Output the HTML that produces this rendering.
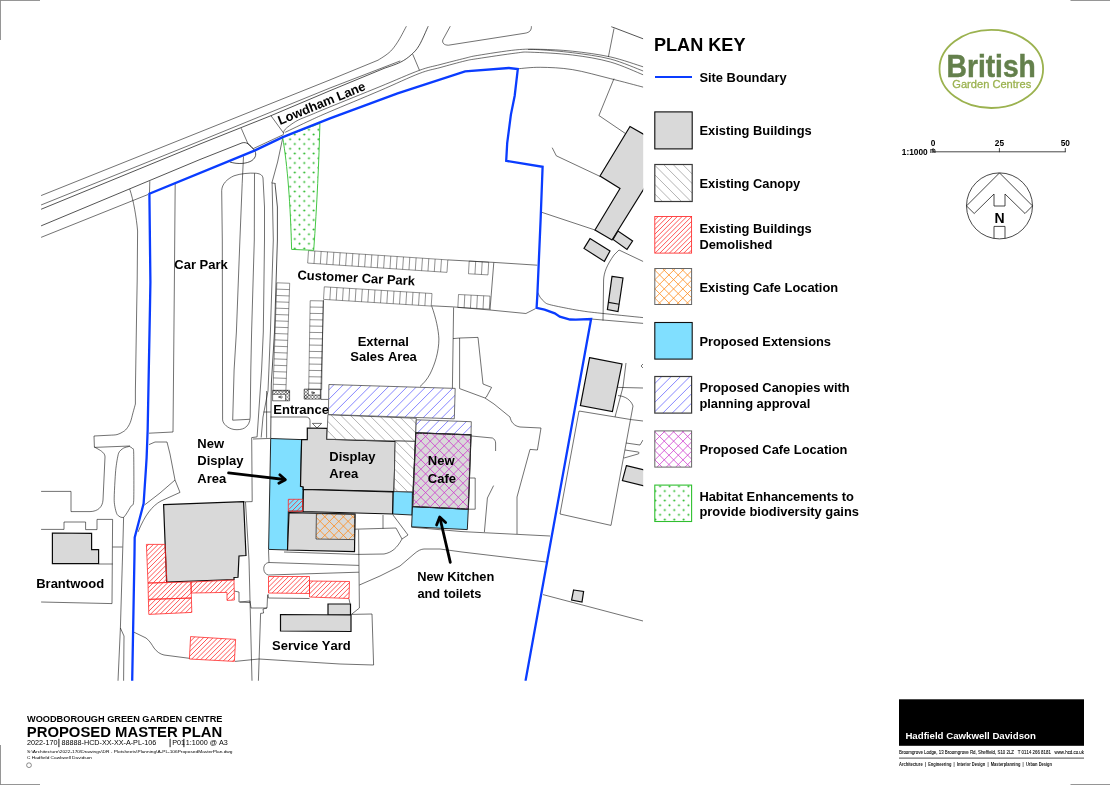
<!DOCTYPE html>
<html lang="en">
<head>
<meta charset="utf-8">
<title>Proposed Master Plan - Woodborough Green Garden Centre</title>
<style>
html,body{margin:0;padding:0;background:#fff;}
body{width:1110px;height:785px;overflow:hidden;}
svg{display:block;font-family:"Liberation Sans", sans-serif;will-change:transform;}
text{font-kerning:none;}
.t{fill:none;stroke:#0a0a0a;stroke-width:0.58;stroke-linejoin:round;stroke-linecap:butt;}
.t2{fill:none;stroke:#0a0a0a;stroke-width:0.7;stroke-linejoin:round;}
.t3{fill:none;stroke:#222;stroke-width:0.5;}
.b{fill:#d9d9d9;stroke:#0a0a0a;stroke-width:1.2;stroke-linejoin:miter;}
.bo{fill:none;stroke:#111;stroke-width:1.1;stroke-linejoin:miter;}
.cy{fill:#80dfff;stroke:#111;stroke-width:0.9;stroke-linejoin:miter;}
.blue{fill:none;stroke:#0a3cff;stroke-width:2.3;stroke-linejoin:miter;stroke-linecap:butt;}
.red{fill:none;stroke:#ff2a2a;stroke-width:0.8;}
.grn{fill:url(#hGrn);stroke:#2fbf2f;stroke-width:0.9;}
.can{fill:none;stroke:#333;stroke-width:0.7;}
.pcan{fill:none;stroke:#333;stroke-width:0.7;}
.org{fill:none;stroke:#333;stroke-width:0.8;}
.pur{fill:none;stroke:#333;stroke-width:0.8;}
.lg.can,.lg.pcan{stroke:#3a3a3a;stroke-width:1.2;}
.lg.org,.lg.pur{stroke:#666;stroke-width:1;}
.lg.red{stroke-width:0.85;}
.lg.grn{stroke-width:1.1;}
.lg.b,.lg.cy{stroke-width:1.1;}
.arrow{fill:none;stroke:#000;stroke-width:2.8;stroke-linecap:round;stroke-linejoin:round;}
</style>
</head>
<body>
<svg width="1110" height="785" viewBox="0 0 1110 785">
<defs>
<clipPath id="mapclip"><rect x="41.1" y="26.3" width="602.1" height="654.5"/></clipPath>
<pattern id="hGrn" patternUnits="userSpaceOnUse" width="9.43" height="9.5" patternTransform="translate(657.74 483.93)"><circle cx="2.357" cy="2.375" r="1.0" fill="#1fb51f"/><circle cx="7.072" cy="7.125" r="1.0" fill="#1fb51f"/></pattern>
<pattern id="hGrn2" patternUnits="userSpaceOnUse" width="9.43" height="9.5" patternTransform="translate(287.74 136.88)"><circle cx="2.357" cy="2.375" r="1.0" fill="#1fb51f"/><circle cx="7.072" cy="7.125" r="1.0" fill="#1fb51f"/></pattern>
</defs>
<rect x="0" y="0" width="1110" height="785" fill="#fff"/>
<g clip-path="url(#mapclip)">
<path class="t" d="M41,195.6 L330,79.9 L378,60.2 L378.00,60.20 C379.33,59.33 383.63,56.78 386.00,55.00 C388.37,53.22 390.05,52.00 392.20,49.50 C394.35,47.00 396.52,43.92 398.90,40.00 C401.28,36.08 405.23,28.33 406.50,26.00" />
<polyline class="t" points="41,205 200,141 330,88 400.3,60.9" />
<path class="t2" d="M41,209.3 L200,144 L270.7,115.8 L330,90.7 L384,68.4 L384.00,68.40 C386.72,67.38 395.78,64.55 400.30,62.30 C404.82,60.05 407.95,57.72 411.10,54.90 C414.25,52.08 416.33,50.22 419.20,45.40 C422.07,40.58 426.78,29.23 428.30,26.00" />
<path class="t2" d="M41,225.9 L200,159.5 L242,142.9 C247,141.5 250,145 253.8,149.4 C257,153.5 256,157.5 252,160.5 C247,163.8 238,164.5 229.8,162" />
<polyline class="t" points="41,237.4 148,194.5" />
<polyline class="t" points="149.8,181.2 149.5,193" />
<polyline class="t" points="241.2,128.2 248.1,144.1 253.8,149.4" />
<polyline class="t" points="270.9,115.6 283.6,133.1" />
<path class="t" d="M283.40,134.50 C283.57,133.80 283.42,131.75 284.40,130.30 C285.38,128.85 287.00,127.50 289.30,125.80 C291.60,124.10 294.75,121.87 298.20,120.10 C301.65,118.33 304.70,117.40 310.00,115.20 C315.30,113.00 318.33,111.67 330.00,106.90 C341.67,102.13 365.13,92.68 380.00,86.60 C394.87,80.52 409.20,74.07 419.20,70.40 C429.20,66.73 432.35,66.63 440.00,64.60 C447.65,62.57 458.80,59.73 465.10,58.20 C471.40,56.67 469.37,56.78 477.80,55.40 C486.23,54.02 505.28,50.92 515.70,49.90 C526.12,48.88 530.85,49.08 540.30,49.30 C549.75,49.52 560.73,49.93 572.40,51.20 C584.07,52.47 598.47,54.28 610.30,56.90 C622.13,59.52 637.88,65.23 643.40,66.90" />
<path class="t" d="M285.20,132.30 C289.33,130.33 302.53,123.95 310.00,120.50 C317.47,117.05 318.33,116.58 330.00,111.60 C341.67,106.62 365.13,96.95 380.00,90.60 C394.87,84.25 409.20,77.33 419.20,73.50 C429.20,69.67 432.35,69.70 440.00,67.60 C447.65,65.50 458.80,62.40 465.10,60.90 C471.40,59.40 469.37,59.90 477.80,58.60 C486.23,57.30 506.87,54.17 515.70,53.10 C524.53,52.03 521.35,51.88 530.80,52.20 C540.25,52.52 559.15,53.37 572.40,55.00 C585.65,56.63 598.47,58.68 610.30,62.00 C622.13,65.32 637.88,72.75 643.40,74.90" />
<path class="t" d="M528.00,49.50 C530.05,49.55 532.90,49.27 540.30,49.80 C547.70,50.33 560.73,51.17 572.40,52.70 C584.07,54.23 598.47,55.93 610.30,59.00 C622.13,62.07 637.88,69.08 643.40,71.10" />
<polyline class="t" points="412.7,54.2 419.5,70.4" />
<path class="t" d="M450.4,26 L442.8,39.9 C442,43 444,45.2 448.5,45.2 L525.1,33.2 C529.5,32.4 531.6,30.5 531.4,26" />
<path class="t" d="M517.60,68.80 C521.38,68.55 531.17,67.17 540.30,67.30 C549.43,67.43 560.73,67.72 572.40,69.60 C584.07,71.48 598.47,75.67 610.30,78.60 C622.13,81.53 637.88,85.77 643.40,87.20" />
<polyline class="t2" points="611.2,26.6 643.4,38.9" />
<polyline class="t" points="614,28.5 608.4,56.9" />
<polyline class="t" points="614,78.6 598.9,115.5 625.4,133.5" />
<path class="t" d="M552.2,147.7 L556.3,155.8 L600,176.4" />
<polyline class="t" points="542,212.4 595,230" />
<path class="t" d="M643.4,261.6 L619,250 L614,255 C607,265 604,272 603.6,280 L603,320.6" />
<path class="t" d="M537.70,292.30 C538.12,293.13 539.05,295.67 540.20,297.30 C541.35,298.93 543.02,300.88 544.60,302.10 C546.18,303.32 545.70,303.52 549.70,304.60 C553.70,305.68 563.03,307.52 568.60,308.60 C574.17,309.68 578.27,310.38 583.10,311.10 C587.93,311.82 587.62,311.82 597.60,312.90 C607.58,313.98 635.43,316.82 643.00,317.60" />
<polyline class="t" points="591,319 643.4,323.4" />
<path class="t" d="M129.7,189.1 C133.5,200 136.5,218 137.6,231 L137.2,280 L136.7,308 L135.4,390 L135.4,404 L135.40,404.00 C135.00,405.45 133.85,409.63 133.00,412.70 C132.15,415.77 131.38,419.70 130.30,422.40 C129.22,425.10 127.77,427.30 126.50,428.90 C125.23,430.50 124.28,431.05 122.70,432.00 C121.12,432.95 119.12,434.07 117.00,434.60 C114.88,435.13 111.17,435.10 110.00,435.20 L94,436 L94.4,447 L99,449.6 C103,452 105,454 105,457 L103,500 C102.5,507 98,511.4 90,511.6 L71,511.6 L71,491.4 L41,491.4" />
<polyline class="t" points="94.2,447.4 130,446" />
<path class="t" d="M129.40,446.40 C129.77,446.66 132.10,447.83 132.60,448.60 C133.10,449.37 133.57,446.92 133.70,453.00 C133.83,459.08 134.04,494.46 133.70,500.70 C133.36,506.94 131.98,504.56 130.80,506.50 C129.62,508.44 125.20,516.38 123.60,517.30 C122.00,518.22 118.20,516.34 117.10,514.40 C116.00,512.46 114.36,505.83 114.20,500.70 C114.04,495.57 115.19,475.94 115.70,470.40 C116.21,464.86 117.68,455.80 118.60,453.20 C119.52,450.60 122.34,448.89 123.60,448.10 C124.86,447.31 128.72,446.60 129.40,446.40" />
<path class="t" d="M123.6,517.3 L123,540 L120.4,628 L124,636 L123.6,681" />
<polyline class="t" points="120.4,628 118,681" />
<polyline class="t" points="41,529.4 64,529.4 64,522 85.6,522 85.6,529.6 97,529.6 97,519.4 112.6,519.4 112,603.6 41,602" />
<polyline class="t" points="112.6,547 122.4,547" />
<polyline class="t" points="98.6,564 112.6,564" />
<polyline class="t" points="175.2,182.8 174.4,280 173,432 149,433.2" />
<path class="t" d="M149,444.6 L155,442 L167,442 L170,454 L175,480 L180,492.4 L161,501 C152,506 145,515 138,532" />
<polyline class="t" points="175,480 160,493 144.5,505" />
<path class="t" d="M222.6,419.9 L222.3,240 L221.7,190.5 C222,184 227,179 234,175.8 C240,173.6 250,172.8 255.1,173.2 C259,173.4 262.5,174.5 263,178 L264.5,207 L264.5,240 L263.3,332 L261.6,370 L257.1,436.9 L251.7,437.6 L252.2,501.6 L240,502" />
<path class="t" d="M222.6,419.9 C223,424 228,428.5 234,429.5 C238,430 242,429.5 244.5,428 C248,426 250,422.5 250.2,417 L250.8,370 L251.6,332 L254.3,240 L254.5,173.3" />
<polyline class="t" points="243.5,156.3 242.2,183.4 239.9,240 236.4,332 234.1,370 232.7,420.2 249.6,419.3" />
<polyline class="t" points="282.7,138.2 277.6,162 271.9,182.9" />
<polyline class="t" points="253.5,148.5 283.2,134.7" />
<polyline class="t" points="271.7,182.9 275.5,183.5" />
<polyline class="t" points="272.1,182.9 273.3,240 270.4,332 268.9,370 268,390.8 263,417 261.2,437.5" />
<path class="t2" d="M275,183.5 L277.4,207 L277.4,240 L274.5,332 L271.3,384 L270.7,438.3" />
<polyline class="t" points="263.5,412 270.7,412" />
<polyline class="t" points="266.6,391 266.6,437.8" />
<polyline class="t" points="253,439 270.4,438.4" />
<path class="t" d="M270.7,417 L306,417 C308.5,417 310,418.5 310,420.6 L310,427.5" />
<polyline class="t" points="320.9,399.4 328.1,399.4" />
<path class="t3" d="M308.50,250.60 L447.80,259.90 M307.67,263.07 L446.97,272.37 M308.50,250.60 L307.67,263.07 M314.83,251.02 L314.00,263.49 M321.16,251.45 L320.33,263.92 M327.50,251.87 L326.66,264.34 M333.83,252.29 L332.99,264.76 M340.16,252.71 L339.33,265.19 M346.49,253.14 L345.66,265.61 M352.82,253.56 L351.99,266.03 M359.15,253.98 L358.32,266.45 M365.49,254.40 L364.65,266.88 M371.82,254.83 L370.99,267.30 M378.15,255.25 L377.32,267.72 M384.48,255.67 L383.65,268.14 M390.81,256.10 L389.98,268.57 M397.15,256.52 L396.31,268.99 M403.48,256.94 L402.64,269.41 M409.81,257.36 L408.98,269.84 M416.14,257.79 L415.31,270.26 M422.47,258.21 L421.64,270.68 M428.80,258.63 L427.97,271.10 M435.14,259.05 L434.30,271.53 M441.47,259.48 L440.64,271.95 M447.80,259.90 L446.97,272.37" />
<path class="t3" d="M324.30,286.80 L432.00,293.50 M323.52,299.38 L431.22,306.08 M324.30,286.80 L323.52,299.38 M330.64,287.19 L329.85,299.77 M336.97,287.59 L336.19,300.16 M343.31,287.98 L342.52,300.56 M349.64,288.38 L348.86,300.95 M355.98,288.77 L355.19,301.35 M362.31,289.16 L361.53,301.74 M368.65,289.56 L367.86,302.13 M374.98,289.95 L374.20,302.53 M381.32,290.35 L380.54,302.92 M387.65,290.74 L386.87,303.32 M393.99,291.14 L393.21,303.71 M400.32,291.53 L399.54,304.11 M406.66,291.92 L405.88,304.50 M412.99,292.32 L412.21,304.89 M419.33,292.71 L418.55,305.29 M425.66,293.11 L424.88,305.68 M432.00,293.50 L431.22,306.08" />
<path class="t3" d="M469.20,261.10 L488.70,262.20 M468.48,273.78 L487.98,274.88 M469.20,261.10 L468.48,273.78 M475.70,261.47 L474.98,274.15 M482.20,261.83 L481.48,274.51 M488.70,262.20 L487.98,274.88" />
<path class="t3" d="M458.50,294.50 L490.00,296.10 M457.84,307.48 L489.34,309.08 M458.50,294.50 L457.84,307.48 M464.80,294.82 L464.14,307.80 M471.10,295.14 L470.44,308.12 M477.40,295.46 L476.74,308.44 M483.70,295.78 L483.04,308.76 M490.00,296.10 L489.34,309.08" />
<path class="t3" d="M276.80,282.80 L273.00,390.60 M289.69,283.25 L285.89,391.05 M276.80,282.80 L289.69,283.25 M276.58,289.14 L289.47,289.60 M276.35,295.48 L289.24,295.94 M276.13,301.82 L289.02,302.28 M275.91,308.16 L288.80,308.62 M275.68,314.51 L288.57,314.96 M275.46,320.85 L288.35,321.30 M275.24,327.19 L288.13,327.64 M275.01,333.53 L287.90,333.98 M274.79,339.87 L287.68,340.33 M274.56,346.21 L287.46,346.67 M274.34,352.55 L287.23,353.01 M274.12,358.89 L287.01,359.35 M273.89,365.24 L286.79,365.69 M273.67,371.58 L286.56,372.03 M273.45,377.92 L286.34,378.37 M273.22,384.26 L286.12,384.71 M273.00,390.60 L285.89,391.05" />
<path class="t3" d="M310.20,300.70 L308.70,389.40 M323.20,300.92 L321.70,389.62 M310.20,300.70 L323.20,300.92 M310.09,307.04 L323.09,307.26 M309.99,313.37 L322.98,313.59 M309.88,319.71 L322.88,319.93 M309.77,326.04 L322.77,326.26 M309.66,332.38 L322.66,332.60 M309.56,338.71 L322.56,338.93 M309.45,345.05 L322.45,345.27 M309.34,351.39 L322.34,351.61 M309.24,357.72 L322.23,357.94 M309.13,364.06 L322.13,364.28 M309.02,370.39 L322.02,370.61 M308.91,376.73 L321.91,376.95 M308.81,383.06 L321.81,383.28 M308.70,389.40 L321.70,389.62" />
<clipPath id="c1"><polygon points="272.6,390.3 289.6,390.3 289.6,394.3 272.6,394.3"/></clipPath>
<path clip-path="url(#c1)" d="M269.90,394.80L274.90,389.80M273.20,394.80L278.20,389.80M276.50,394.80L281.50,389.80M279.80,394.80L284.80,389.80M283.10,394.80L288.10,389.80M286.40,394.80L291.40,389.80M270.20,389.80L275.20,394.80M273.50,389.80L278.50,394.80M276.80,389.80L281.80,394.80M280.10,389.80L285.10,394.80M283.40,389.80L288.40,394.80M286.70,389.80L291.70,394.80" fill="none" stroke="#1a1a1a" stroke-width="0.45"/>
<polyline class="t" points="272.6,394.3 285.6,394.3" />
<clipPath id="c2"><polygon points="285.6,390.3 289.6,390.3 289.6,400.8 285.6,400.8"/></clipPath>
<path clip-path="url(#c2)" d="M276.60,401.30L288.10,389.80M279.90,401.30L291.40,389.80M283.20,401.30L294.70,389.80M286.50,401.30L298.00,389.80M276.80,389.80L288.30,401.30M280.10,389.80L291.60,401.30M283.40,389.80L294.90,401.30M286.70,389.80L298.20,401.30" fill="none" stroke="#1a1a1a" stroke-width="0.45"/>
<polyline class="t" points="285.6,394.3 285.6,400.8" />
<rect class="t" x="272.6" y="390.3" width="17" height="10.5"/>
<clipPath id="c3"><polygon points="304.2,395.1 320.4,395.1 320.4,399.1 304.2,399.1"/></clipPath>
<path clip-path="url(#c3)" d="M301.50,399.60L306.50,394.60M304.80,399.60L309.80,394.60M308.10,399.60L313.10,394.60M311.40,399.60L316.40,394.60M314.70,399.60L319.70,394.60M318.00,399.60L323.00,394.60M301.80,394.60L306.80,399.60M305.10,394.60L310.10,399.60M308.40,394.60L313.40,399.60M311.70,394.60L316.70,399.60M315.00,394.60L320.00,399.60M318.30,394.60L323.30,399.60" fill="none" stroke="#1a1a1a" stroke-width="0.45"/>
<polyline class="t" points="308.2,395.1 320.4,395.1" />
<clipPath id="c4"><polygon points="304.2,389.1 308.2,389.1 308.2,399.1 304.2,399.1"/></clipPath>
<path clip-path="url(#c4)" d="M294.90,399.60L305.90,388.60M298.20,399.60L309.20,388.60M301.50,399.60L312.50,388.60M304.80,399.60L315.80,388.60M295.80,388.60L306.80,399.60M299.10,388.60L310.10,399.60M302.40,388.60L313.40,399.60M305.70,388.60L316.70,399.60" fill="none" stroke="#1a1a1a" stroke-width="0.45"/>
<polyline class="t" points="308.2,389.1 308.2,395.1" />
<rect class="t" x="304.2" y="389.1" width="16.2" height="10"/>
<path class="t" d="M281.5,395.8 L278.4,397 L281.8,398.3 M279.5,397 h3.4" />
<path class="t" d="M311.6,391.6 L314.9,392.8 L312,394 M311,392.8 h3.2" />
<polyline class="t" points="447.8,259.9 493.8,262.4 537.3,265.2" />
<polyline class="t" points="431.6,305.8 453.4,306.9 490,310 525.9,313.5 535.4,308.7" />
<polyline class="t" points="493.8,262.4 490,310" />
<path class="t" d="M323.5,300 L321,387 L320.9,399.4" />
<path class="t" d="M431.6,305.8 C436,318 438.5,330 438.9,339 C438.8,352 435,364 430,374 C427,379.5 424,383 420,386.5" />
<polyline class="t" points="453.6,307.4 452.4,388.4" />
<polyline class="t" points="453,338.6 460,338 478,337.4 483,384 491.6,387.4 486.4,397 485,398" />
<path class="t" d="M459.6,338 L459.6,388.6 L485,398 L494,404 L510,417 C511,422 514,426 520,427 L541,428 L537.4,450 L530,449.4 L517,497 L517,534" />
<path class="t" d="M471.4,436 L492.4,438 C494.5,439 495.6,441 495.6,443 L495.6,451" />
<polyline class="t" points="470,478 475.2,478 475.2,509.2 468.5,509.2" />
<path class="t" d="M493.6,485.6 L487.4,498 L484.4,532" />
<polyline class="t" points="411.4,527.2 462,531.6 550,536" />
<path class="t" d="M359.4,585 L380,576 L400,566 L414,554 C418,550.5 421,549.2 424,549 L440,549 L462,552 L546,562" />
<polyline class="t" points="358.6,529.6 359.4,608 351.4,614.4" />
<polyline class="t" points="355,529.2 396,528 402,539" />
<polyline class="t" points="383,515 383,528.6" />
<polyline class="t" points="393,515 408,535 402,539" />
<path class="t" d="M358,554.4 L384,554 C392,552.5 397,548 402,539" />
<polyline class="t" points="284,552 358,554.4" />
<polyline class="t" points="268.5,550 269,562.5" />
<path class="t" d="M358.8,565.4 L269,562.5 C265,563 263.5,566 263.8,569.5 C264,572.5 266,574.5 268.5,575 L358.9,572.2" />
<polyline class="t" points="268,594 268.4,598 309.5,598.5" />
<polyline class="t" points="267.6,595 267,608 263,609 263.6,613 260.6,613.4 258.4,681" />
<polyline class="t" points="245.5,502 249,560 252,681" />
<polyline class="t" points="240,602 250,601 251,608 267,608" />
<polyline class="t" points="349,599 350,603.5" />
<polyline class="t" points="351.4,614.4 372,614 373.6,665 340,664 259,659 235,661.4" />
<polyline class="t" points="234,591 239,592 239,602 250,602.6" />
<path class="t" d="M133.6,632 L146,638 C150,641 152,645 154,648 C157,652 160,654 164,655 L190,658.4" />
<polyline class="t" points="579,411 560,514 611,525.4 630.5,419.5 579,411" />
<polyline class="t" points="626,363 623,387 615,417" />
<polyline class="t" points="618,387.4 643,388" />
<path class="t" d="M618,395.6 C625,396 631,400 633,406 L630.5,419.5 L643,421" />
<polyline class="t" points="626,443 640,445 643,440" />
<path class="t" d="M624,458 L638,454 C639.5,453.5 639.5,452.3 638,452 L625,450" />
<path class="t" d="M643,364 L641,366 L643,368" />
<polyline class="t" points="543,594.6 643,621" />
<path class="grn" d="M282.6,137.2 L319.9,123.4 C319,160 317,205 313.7,250.3 L291.6,249.4 C290.5,205 287.5,165 282.6,137.2 Z" style="fill:url(#hGrn2)"/>
<polygon class="b" points="163.6,504.6 243.6,501.6 246,555.5 239,556 238,577.3 234,577.5 234,579.5 166.6,582" />
<polygon class="b" points="52.4,533 91.6,533.4 91.6,549.6 98.6,549.6 98.6,563.6 52.4,563.6" />
<polygon class="b" points="630,126.5 650,138 650,179 612,240 595,230 620,188.5 600,176" />
<polygon class="b" points="613,239.4 618,231 632.6,241 627,249.4" />
<polygon class="b" points="590,238.6 610,251 604.4,261.4 584,248.4" />
<polygon class="b" points="612,276.4 623,278 618,311.6 607.4,309.6" />
<polyline class="bo" points="608.6,302.4 619.2,304.2" />
<polygon class="b" points="589.6,357.6 622,364 612.4,411.6 580.4,405.6" />
<polygon class="b" points="626.4,465.6 650,471.3 650,487.3 622.4,480.6" />
<polygon class="b" points="573.6,590 583.6,591.4 582,602 571.6,600" />
<polygon class="b" points="328,604 350.5,604 350.5,615 328,615" />
<polygon class="b" points="280.5,614.5 351,615 351,631.5 280.5,631" />
<polygon class="cy" points="270.7,438.5 301.6,439.6 300.5,486.3 303.2,486.9 302.6,511.2 288.3,511.2 287.5,550 268.6,549.4" />
<polygon class="cy" points="393,491.5 412.4,492 412,515 392.6,514" />
<polygon class="cy" points="412.5,506.4 468.3,509.2 467.3,529.6 411.6,526.8" />
<polygon class="b" points="307.3,428 327.2,428.4 326.9,439.2 395.4,441.4 394,491.6 303.2,489.3 303.2,486.9 300.5,486.3 301.6,439.6 307.3,439.7" />
<polygon class="b" points="303.4,489.5 393,492 392.6,514 303,511.5" />
<polygon class="b" points="289,512.6 355,514 354.5,551.6 287.5,550" />
<clipPath id="c5"><polygon points="327.9,414.7 416.3,418.3 415.4,441.4 326.9,439.2"/></clipPath>
<polygon points="327.9,414.7 416.3,418.3 415.4,441.4 326.9,439.2" fill="#fff"/>
<path clip-path="url(#c5)" d="M301.44,414.20L329.14,441.90M311.00,414.20L338.70,441.90M320.56,414.20L348.26,441.90M330.12,414.20L357.82,441.90M339.68,414.20L367.38,441.90M349.24,414.20L376.94,441.90M358.80,414.20L386.50,441.90M368.36,414.20L396.06,441.90M377.92,414.20L405.62,441.90M387.48,414.20L415.18,441.90M397.04,414.20L424.74,441.90M406.60,414.20L434.30,441.90" fill="none" stroke="#808080" stroke-width="0.6"/>
<polygon class="can" points="327.9,414.7 416.3,418.3 415.4,441.4 326.9,439.2"/>
<clipPath id="c6"><polygon points="395.2,441 415.4,441.4 412.8,491.8 394,491.4"/></clipPath>
<polygon points="395.2,441 415.4,441.4 412.8,491.8 394,491.4" fill="#fff"/>
<path clip-path="url(#c6)" d="M346.86,440.50L398.66,492.30M356.42,440.50L408.22,492.30M365.98,440.50L417.78,492.30M375.54,440.50L427.34,492.30M385.10,440.50L436.90,492.30M394.66,440.50L446.46,492.30M404.22,440.50L456.02,492.30M413.78,440.50L465.58,492.30" fill="none" stroke="#808080" stroke-width="0.6"/>
<polygon class="can" points="395.2,441 415.4,441.4 412.8,491.8 394,491.4"/>
<clipPath id="c7"><polygon points="328.9,384.5 455.2,388.4 454.3,418.8 328.4,414.5"/></clipPath>
<polygon points="328.9,384.5 455.2,388.4 454.3,418.8 328.4,414.5" fill="#fff"/>
<path clip-path="url(#c7)" d="M299.40,419.30L334.70,384.00M308.80,419.30L344.10,384.00M318.20,419.30L353.50,384.00M327.60,419.30L362.90,384.00M337.00,419.30L372.30,384.00M346.40,419.30L381.70,384.00M355.80,419.30L391.10,384.00M365.20,419.30L400.50,384.00M374.60,419.30L409.90,384.00M384.00,419.30L419.30,384.00M393.40,419.30L428.70,384.00M402.80,419.30L438.10,384.00M412.20,419.30L447.50,384.00M421.60,419.30L456.90,384.00M431.00,419.30L466.30,384.00M440.40,419.30L475.70,384.00M449.80,419.30L485.10,384.00" fill="none" stroke="#4646ff" stroke-width="0.65"/>
<polygon class="pcan" points="328.9,384.5 455.2,388.4 454.3,418.8 328.4,414.5"/>
<clipPath id="c8"><polygon points="416.3,419.8 471.3,421.7 471,434.9 415.8,432.8"/></clipPath>
<polygon points="416.3,419.8 471.3,421.7 471,434.9 415.8,432.8" fill="#fff"/>
<path clip-path="url(#c8)" d="M405.50,435.40L421.60,419.30M414.90,435.40L431.00,419.30M424.30,435.40L440.40,419.30M433.70,435.40L449.80,419.30M443.10,435.40L459.20,419.30M452.50,435.40L468.60,419.30M461.90,435.40L478.00,419.30" fill="none" stroke="#4646ff" stroke-width="0.65"/>
<polygon class="pcan" points="416.3,419.8 471.3,421.7 471,434.9 415.8,432.8"/>
<polygon class="b" points="415.8,432.8 471,434.9 468.3,509.2 412.6,506.6" />
<clipPath id="c9"><polygon points="415.8,432.8 471,434.9 468.3,509.2 412.6,506.6"/></clipPath>
<path clip-path="url(#c9)" d="M342.97,509.70L420.37,432.30M352.33,509.70L429.73,432.30M361.69,509.70L439.09,432.30M371.05,509.70L448.45,432.30M380.41,509.70L457.81,432.30M389.77,509.70L467.17,432.30M399.13,509.70L476.53,432.30M408.49,509.70L485.89,432.30M417.85,509.70L495.25,432.30M427.21,509.70L504.61,432.30M436.57,509.70L513.97,432.30M445.93,509.70L523.33,432.30M455.29,509.70L532.69,432.30M464.65,509.70L542.05,432.30M337.17,432.30L414.57,509.70M346.53,432.30L423.93,509.70M355.89,432.30L433.29,509.70M365.25,432.30L442.65,509.70M374.61,432.30L452.01,509.70M383.97,432.30L461.37,509.70M393.33,432.30L470.73,509.70M402.69,432.30L480.09,509.70M412.05,432.30L489.45,509.70M421.41,432.30L498.81,509.70M430.77,432.30L508.17,509.70M440.13,432.30L517.53,509.70M449.49,432.30L526.89,509.70M458.85,432.30L536.25,509.70M468.21,432.30L545.61,509.70" fill="none" stroke="#cc33cc" stroke-width="0.75"/>
<polygon class="pur" points="415.8,432.8 471,434.9 468.3,509.2 412.6,506.6"/>
<clipPath id="c10"><polygon points="316.4,513.6 355,514.4 354.5,539.6 316,539"/></clipPath>
<path clip-path="url(#c10)" d="M292.15,540.10L319.15,513.10M301.45,540.10L328.45,513.10M310.75,540.10L337.75,513.10M320.05,540.10L347.05,513.10M329.35,540.10L356.35,513.10M338.65,540.10L365.65,513.10M347.95,540.10L374.95,513.10M293.25,513.10L320.25,540.10M302.55,513.10L329.55,540.10M311.85,513.10L338.85,540.10M321.15,513.10L348.15,540.10M330.45,513.10L357.45,540.10M339.75,513.10L366.75,540.10M349.05,513.10L376.05,540.10" fill="none" stroke="#ff8c1a" stroke-width="0.8"/>
<polygon class="org" points="316.4,513.6 355,514.4 354.5,539.6 316,539"/>
<clipPath id="c11"><polygon points="288.3,499.3 302.7,499.3 302.6,511.2 288.3,511.2"/></clipPath>
<path clip-path="url(#c11)" d="M276.96,511.70L289.86,498.80M281.74,511.70L294.64,498.80M286.52,511.70L299.42,498.80M291.30,511.70L304.20,498.80M296.08,511.70L308.98,498.80M300.86,511.70L313.76,498.80" fill="none" stroke="#ff1a1a" stroke-width="0.74"/>
<polygon class="red" points="288.3,499.3 302.7,499.3 302.6,511.2 288.3,511.2"/>
<clipPath id="c12"><polygon points="146.4,544.4 165,544.4 167,582.5 148,583"/></clipPath>
<path clip-path="url(#c12)" d="M109.56,583.50L149.16,543.90M114.34,583.50L153.94,543.90M119.12,583.50L158.72,543.90M123.90,583.50L163.50,543.90M128.68,583.50L168.28,543.90M133.46,583.50L173.06,543.90M138.24,583.50L177.84,543.90M143.02,583.50L182.62,543.90M147.80,583.50L187.40,543.90M152.58,583.50L192.18,543.90M157.36,583.50L196.96,543.90M162.14,583.50L201.74,543.90" fill="none" stroke="#ff1a1a" stroke-width="0.74"/>
<polygon class="red" points="146.4,544.4 165,544.4 167,582.5 148,583"/>
<clipPath id="c13"><polygon points="148,583 191,582 191.4,598 148.4,599.4"/></clipPath>
<path clip-path="url(#c13)" d="M131.40,599.90L149.80,581.50M136.18,599.90L154.58,581.50M140.96,599.90L159.36,581.50M145.74,599.90L164.14,581.50M150.52,599.90L168.92,581.50M155.30,599.90L173.70,581.50M160.08,599.90L178.48,581.50M164.86,599.90L183.26,581.50M169.64,599.90L188.04,581.50M174.42,599.90L192.82,581.50M179.20,599.90L197.60,581.50M183.98,599.90L202.38,581.50M188.76,599.90L207.16,581.50" fill="none" stroke="#ff1a1a" stroke-width="0.74"/>
<polygon class="red" points="148,583 191,582 191.4,598 148.4,599.4"/>
<clipPath id="c14"><polygon points="148.4,599.4 191.4,598 191.8,612.4 148.8,614.4"/></clipPath>
<path clip-path="url(#c14)" d="M135.52,614.90L152.92,597.50M140.30,614.90L157.70,597.50M145.08,614.90L162.48,597.50M149.86,614.90L167.26,597.50M154.64,614.90L172.04,597.50M159.42,614.90L176.82,597.50M164.20,614.90L181.60,597.50M168.98,614.90L186.38,597.50M173.76,614.90L191.16,597.50M178.54,614.90L195.94,597.50M183.32,614.90L200.72,597.50M188.10,614.90L205.50,597.50" fill="none" stroke="#ff1a1a" stroke-width="0.74"/>
<polygon class="red" points="148.4,599.4 191.4,598 191.8,612.4 148.8,614.4"/>
<clipPath id="c15"><polygon points="191,582 234,580 234.4,600 227,600.4 227,592.4 191.2,593"/></clipPath>
<path clip-path="url(#c15)" d="M173.42,600.90L194.82,579.50M178.20,600.90L199.60,579.50M182.98,600.90L204.38,579.50M187.76,600.90L209.16,579.50M192.54,600.90L213.94,579.50M197.32,600.90L218.72,579.50M202.10,600.90L223.50,579.50M206.88,600.90L228.28,579.50M211.66,600.90L233.06,579.50M216.44,600.90L237.84,579.50M221.22,600.90L242.62,579.50M226.00,600.90L247.40,579.50M230.78,600.90L252.18,579.50" fill="none" stroke="#ff1a1a" stroke-width="0.74"/>
<polygon class="red" points="191,582 234,580 234.4,600 227,600.4 227,592.4 191.2,593"/>
<clipPath id="c16"><polygon points="190.6,636.6 235.6,639.4 234.4,661.4 189.4,659"/></clipPath>
<path clip-path="url(#c16)" d="M165.00,661.90L190.80,636.10M169.78,661.90L195.58,636.10M174.56,661.90L200.36,636.10M179.34,661.90L205.14,636.10M184.12,661.90L209.92,636.10M188.90,661.90L214.70,636.10M193.68,661.90L219.48,636.10M198.46,661.90L224.26,636.10M203.24,661.90L229.04,636.10M208.02,661.90L233.82,636.10M212.80,661.90L238.60,636.10M217.58,661.90L243.38,636.10M222.36,661.90L248.16,636.10M227.14,661.90L252.94,636.10M231.92,661.90L257.72,636.10" fill="none" stroke="#ff1a1a" stroke-width="0.74"/>
<polygon class="red" points="190.6,636.6 235.6,639.4 234.4,661.4 189.4,659"/>
<clipPath id="c17"><polygon points="268.5,576.5 309.5,576.5 309.5,593.5 268.5,593"/></clipPath>
<path clip-path="url(#c17)" d="M252.02,594.00L270.02,576.00M256.80,594.00L274.80,576.00M261.58,594.00L279.58,576.00M266.36,594.00L284.36,576.00M271.14,594.00L289.14,576.00M275.92,594.00L293.92,576.00M280.70,594.00L298.70,576.00M285.48,594.00L303.48,576.00M290.26,594.00L308.26,576.00M295.04,594.00L313.04,576.00M299.82,594.00L317.82,576.00M304.60,594.00L322.60,576.00" fill="none" stroke="#ff1a1a" stroke-width="0.74"/>
<polygon class="red" points="268.5,576.5 309.5,576.5 309.5,593.5 268.5,593"/>
<clipPath id="c18"><polygon points="309.5,581 349.5,581.5 349,598.5 309.5,597"/></clipPath>
<path clip-path="url(#c18)" d="M294.82,599.00L313.32,580.50M299.60,599.00L318.10,580.50M304.38,599.00L322.88,580.50M309.16,599.00L327.66,580.50M313.94,599.00L332.44,580.50M318.72,599.00L337.22,580.50M323.50,599.00L342.00,580.50M328.28,599.00L346.78,580.50M333.06,599.00L351.56,580.50M337.84,599.00L356.34,580.50M342.62,599.00L361.12,580.50M347.40,599.00L365.90,580.50" fill="none" stroke="#ff1a1a" stroke-width="0.74"/>
<polygon class="red" points="309.5,581 349.5,581.5 349,598.5 309.5,597"/>
<polygon class="t" points="312.4,423.4 321.6,423.4 317,428" />
<path class="blue" d="M132.2,681 L134.5,554 L134.7,537.5 L143.6,503.6 L145.85,470 L146.6,458 L147.66,430 L150,306 L150.4,282 L149.4,193.8 L254.5,150.6 L282.8,137.1 L330,118.4 L397.6,93.4 L465.1,71.4 L508.9,68 L517.8,69.1 L514.7,95.7 L510.9,114.6 L507.2,143 L506.2,160.9 L542.6,166.8 L540.6,220 L539,257 L537.4,294 L536.6,307.9 L544.6,309.7 L554.8,313.3 L559.8,316.6 L570,319.5 L575.8,319.7 L591.1,319 L525.5,681" />
</g>
<path class="arrow" d="M228.6,472.9 L284.6,479.5"/>
<path class="arrow" d="M279.8,474.8 L285.4,479.7 L278.8,483.2"/>
<path class="arrow" d="M450.3,562.4 L439.9,517.8"/>
<path class="arrow" d="M436.6,525 L439.7,517 L445.6,522.5"/>
<g font-weight="bold" font-size="13">
<text x="279.9" y="124.9" transform="rotate(-22.2 279.9 124.9)" font-size="12.85">Lowdham Lane</text>
<text x="174.3" y="268.7" >Car Park</text>
<text x="297.2" y="279.2" transform="rotate(3 297.2 279.2)">Customer Car Park</text>
<text x="383.3" y="345.7" text-anchor="middle">External</text>
<text x="383.6" y="361" text-anchor="middle">Sales Area</text>
<text x="273.3" y="413.5" >Entrance</text>
<text x="197.3" y="447.9" >New</text>
<text x="197.3" y="465" >Display</text>
<text x="197.3" y="482.6" >Area</text>
<text x="329.3" y="460.5" >Display</text>
<text x="329.3" y="478.4" >Area</text>
<text x="427.8" y="465.2" >New</text>
<text x="427.8" y="482.6" >Cafe</text>
<text x="417.2" y="580.5" font-size="12.85">New Kitchen</text>
<text x="417.4" y="597.7" font-size="12.8">and toilets</text>
<text x="36.2" y="588" >Brantwood</text>
<text x="272" y="649.8" >Service Yard</text>
</g>
<g fill="none" stroke="#8a8a8a" stroke-width="1">
<path d="M0.4,0 V40 M0,0.4 H40"/>
<path d="M1070.5,0.4 H1110"/>
<path d="M0.4,745 V785 M0,784.6 H40"/>
<path d="M1070.5,784.6 H1110"/>
</g>
<text x="654" y="51.4" font-size="18.1" font-weight="bold" >PLAN KEY</text>
<line x1="655" y1="77" x2="692" y2="77" stroke="#0a3cff" stroke-width="2"/>
<text x="699.4" y="82.2" font-size="12.88" font-weight="bold" >Site Boundary</text>
<rect class="b lg" x="654.8" y="111.9" width="37.4" height="37"/>
<text x="699.4" y="135.2" font-size="12.88" font-weight="bold" >Existing Buildings</text>
<clipPath id="c19"><polygon points="654.8,164.5 692.2,164.5 692.2,201.5 654.8,201.5"/></clipPath>
<path clip-path="url(#c19)" d="M624.84,164.00L662.84,202.00M634.40,164.00L672.40,202.00M643.96,164.00L681.96,202.00M653.52,164.00L691.52,202.00M663.08,164.00L701.08,202.00M672.64,164.00L710.64,202.00M682.20,164.00L720.20,202.00" fill="none" stroke="#808080" stroke-width="0.6"/>
<rect class="can lg" x="654.8" y="164.5" width="37.4" height="37"/>
<text x="699.4" y="188.2" font-size="12.88" font-weight="bold" >Existing Canopy</text>
<clipPath id="c20"><polygon points="654.8,216.5 691.6,216.5 691.6,253.1 654.8,253.1"/></clipPath>
<path clip-path="url(#c20)" d="M621.10,253.60L658.70,216.00M625.88,253.60L663.48,216.00M630.66,253.60L668.26,216.00M635.44,253.60L673.04,216.00M640.22,253.60L677.82,216.00M645.00,253.60L682.60,216.00M649.78,253.60L687.38,216.00M654.56,253.60L692.16,216.00M659.34,253.60L696.94,216.00M664.12,253.60L701.72,216.00M668.90,253.60L706.50,216.00M673.68,253.60L711.28,216.00M678.46,253.60L716.06,216.00M683.24,253.60L720.84,216.00M688.02,253.60L725.62,216.00" fill="none" stroke="#ff1a1a" stroke-width="0.74"/>
<rect class="red lg" x="654.8" y="216.5" width="36.8" height="36.6"/>
<text x="699.4" y="233.1" font-size="12.88" font-weight="bold" >Existing Buildings</text>
<text x="699.4" y="248.9" font-size="12.88" font-weight="bold" >Demolished</text>
<clipPath id="c21"><polygon points="654.8,268.5 691.6,268.5 691.6,304.5 654.8,304.5"/></clipPath>
<path clip-path="url(#c21)" d="M620.25,305.00L657.25,268.00M629.55,305.00L666.55,268.00M638.85,305.00L675.85,268.00M648.15,305.00L685.15,268.00M657.45,305.00L694.45,268.00M666.75,305.00L703.75,268.00M676.05,305.00L713.05,268.00M685.35,305.00L722.35,268.00M624.75,268.00L661.75,305.00M634.05,268.00L671.05,305.00M643.35,268.00L680.35,305.00M652.65,268.00L689.65,305.00M661.95,268.00L698.95,305.00M671.25,268.00L708.25,305.00M680.55,268.00L717.55,305.00M689.85,268.00L726.85,305.00" fill="none" stroke="#ff8c1a" stroke-width="0.8"/>
<rect class="org lg" x="654.8" y="268.5" width="36.8" height="36"/>
<text x="699.4" y="291.6" font-size="12.88" font-weight="bold" >Existing Cafe Location</text>
<rect class="cy lg" x="654.8" y="322.5" width="37.4" height="36.6"/>
<text x="699.4" y="346" font-size="12.88" font-weight="bold" >Proposed Extensions</text>
<clipPath id="c22"><polygon points="654.8,376.5 691.6,376.5 691.6,413.1 654.8,413.1"/></clipPath>
<path clip-path="url(#c22)" d="M624.70,413.60L662.30,376.00M634.10,413.60L671.70,376.00M643.50,413.60L681.10,376.00M652.90,413.60L690.50,376.00M662.30,413.60L699.90,376.00M671.70,413.60L709.30,376.00M681.10,413.60L718.70,376.00M690.50,413.60L728.10,376.00" fill="none" stroke="#4646ff" stroke-width="0.65"/>
<rect class="pcan lg" x="654.8" y="376.5" width="36.8" height="36.6"/>
<text x="699.4" y="392" font-size="12.88" font-weight="bold" >Proposed Canopies with</text>
<text x="699.4" y="407.6" font-size="12.88" font-weight="bold" >planning approval</text>
<clipPath id="c23"><polygon points="654.8,430.9 691.6,430.9 691.6,467.1 654.8,467.1"/></clipPath>
<path clip-path="url(#c23)" d="M619.07,467.60L656.27,430.40M628.43,467.60L665.63,430.40M637.79,467.60L674.99,430.40M647.15,467.60L684.35,430.40M656.51,467.60L693.71,430.40M665.87,467.60L703.07,430.40M675.23,467.60L712.43,430.40M684.59,467.60L721.79,430.40M625.43,430.40L662.63,467.60M634.79,430.40L671.99,467.60M644.15,430.40L681.35,467.60M653.51,430.40L690.71,467.60M662.87,430.40L700.07,467.60M672.23,430.40L709.43,467.60M681.59,430.40L718.79,467.60M690.95,430.40L728.15,467.60" fill="none" stroke="#cc33cc" stroke-width="0.75"/>
<rect class="pur lg" x="654.8" y="430.9" width="36.8" height="36.2"/>
<text x="699.4" y="454" font-size="12.88" font-weight="bold" >Proposed Cafe Location</text>
<rect class="grn lg" x="654.8" y="485.1" width="36.8" height="36.4"/>
<text x="699.4" y="500.6" font-size="12.88" font-weight="bold" >Habitat Enhancements to</text>
<text x="699.4" y="516" font-size="12.88" font-weight="bold" >provide biodiversity gains</text>
<ellipse cx="991.3" cy="68.9" rx="51.8" ry="39.1" fill="#fff" stroke="#9bb24f" stroke-width="1.8"/>
<text x="946.6" y="76.9" font-size="31.4" font-weight="bold" textLength="89.2" lengthAdjust="spacingAndGlyphs" fill="#64804c" stroke="#64804c" stroke-width="0.5">British</text>
<text x="952.3" y="88" font-size="11.2" textLength="79" lengthAdjust="spacingAndGlyphs" fill="#9bb24f" stroke="#9bb24f" stroke-width="0.3">Garden Centres</text>
<g fill="none" stroke="#1a1a1a" stroke-width="0.8">
<path d="M933.1,151.8 H1065.5 M933.1,152.2 V148 M999.4,152.2 V148 M1065.3,152.2 V148"/>
</g>
<text x="933.1" y="146" font-size="8.3" font-weight="bold" text-anchor="middle" >0</text>
<text x="999.4" y="146" font-size="8.3" font-weight="bold" text-anchor="middle" >25</text>
<text x="1065.3" y="146" font-size="8.3" font-weight="bold" text-anchor="middle" >50</text>
<text x="901.8" y="155.4" font-size="8.3" font-weight="bold" >1:1000</text>
<text x="930" y="152.8" font-size="6.5" font-weight="bold" >m</text>
<g fill="none" stroke="#1a1a1a" stroke-width="0.8" stroke-linejoin="miter">
<circle cx="999.5" cy="205.9" r="33"/>
<path d="M966.5,205.9 L999.5,172.9 L1032.5,205.9 L1025,213.5 L1005,194 V206 H994 V194 L974.2,213.5 Z"/>
<path d="M994,238.4 V226.4 H1005 V238.4"/>
</g>
<text x="999.5" y="223" font-size="14" font-weight="bold" text-anchor="middle" >N</text>
<text x="27" y="721.5" font-size="9.2" font-weight="bold" >WOODBOROUGH GREEN GARDEN CENTRE</text>
<text x="26.8" y="737" font-size="14.85" font-weight="bold" >PROPOSED MASTER PLAN</text>
<text x="27" y="745.2" font-size="7.2" >2022-170</text>
<text x="61.6" y="745.2" font-size="7.2" >88888-HCD-XX-XX-A-PL-106</text>
<text x="172.2" y="745.2" font-size="7.2" >P01</text>
<text x="185.8" y="745.2" font-size="7.2" >1:1000 @ A3</text>
<path d="M58.9,738.8 V747.2 M170.1,738.8 V747.2 M183.9,738.8 V747.2" stroke="#000" stroke-width="0.9" fill="none"/>
<text x="27" y="752.6" font-size="4.4" textLength="205.5" lengthAdjust="spacingAndGlyphs" >S:\Architecture\2022-170\Drawings\DR - Plotsheets\Planning\A-PL-106ProposedMasterPlan.dwg</text>
<text x="27" y="758.8" font-size="4.4" textLength="65" lengthAdjust="spacingAndGlyphs" >C Hadfield Cawkwell Davidson</text>
<circle cx="29" cy="765.2" r="2.4" fill="none" stroke="#222" stroke-width="0.5"/>
<rect x="899" y="699.3" width="185" height="46.5" fill="#000"/>
<text x="905.4" y="739" font-size="9.6" font-weight="bold" textLength="130.5" lengthAdjust="spacingAndGlyphs" fill="#fff" >Hadfield Cawkwell Davidson</text>
<text x="899" y="753.8" font-size="6" textLength="185" lengthAdjust="spacingAndGlyphs" fill="#111" xml:space="preserve" stroke="#111" stroke-width="0.12">Broomgrove Lodge, 13 Broomgrove Rd, Sheffield, S10 2LZ   T 0114 266 8181   www.hcd.co.uk</text>
<line x1="899" y1="758.1" x2="1084" y2="758.1" stroke="#707070" stroke-width="1.3"/>
<text x="899" y="765.7" font-size="5.9" font-weight="bold" textLength="153" lengthAdjust="spacingAndGlyphs" fill="#111" xml:space="preserve">Architecture  |  Engineering  |  Interior Design  |  Masterplanning  |  Urban Design</text>
</svg>
</body>
</html>
